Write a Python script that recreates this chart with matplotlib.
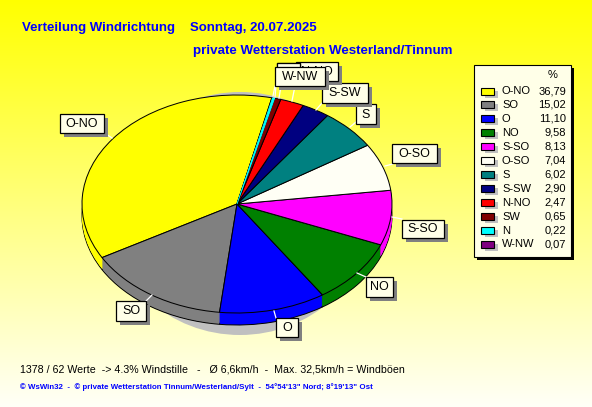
import numpy as np
import matplotlib
matplotlib.use("Agg")
import matplotlib.pyplot as plt
from matplotlib.patches import Rectangle, Ellipse

plt.rcParams["font.family"] = ["Liberation Sans", "DejaVu Sans"]

# wind direction shares in percent, order as in the legend
directions = ["O-NO", "SO", "O", "NO", "S-SO", "O-SO", "S", "S-SW", "N-NO", "SW", "N", "W-NW"]
shares = [36.79, 15.02, 11.10, 9.58, 8.13, 7.04, 6.02, 2.90, 2.47, 0.65, 0.22, 0.07]
colors = ["#ffff00", "#808080", "#0000ff", "#008000", "#ff00ff", "#fffff5",
          "#008080", "#000080", "#ff0000", "#800000", "#00ffff", "#800080"]

W, H = 592, 407
CX, CY, RX, RY = 237, 204, 155, 109
DEPTH = 12

fig = plt.figure(figsize=(W / 100, H / 100), dpi=100)

# background gradient, yellow to almost white
bg = fig.add_axes([0, 0, 1, 1])
grad = np.ones((H, 1, 3))
grad[:, 0, 2] = np.linspace(0.0, 0.97, H)
bg.imshow(grad, aspect="auto", extent=(0, W, H, 0))
bg.set_xlim(0, W)
bg.set_ylim(H, 0)
bg.axis("off")
bg.add_patch(Ellipse((240, 213.5), 260, 243, color="#c0c0c0", lw=0))

# pie axes, one data unit is RX / RY pixels
ax = fig.add_axes([0, 0, 1, 1])
ax.patch.set_alpha(0)
for d in range(DEPTH, 0, -1):
    lw = 0.72 if d == DEPTH else 0
    ax.pie(shares, colors=colors, startangle=77, center=(0, -d / RY), radius=1,
           wedgeprops={"edgecolor": "black", "linewidth": lw})
top, _ = ax.pie(shares, colors=colors, startangle=77, center=(0, 0), radius=1,
                wedgeprops={"edgecolor": "black", "linewidth": 0.72})
# the N wedge is thinner than its outline, keep it visible
top[10].set_edgecolor(colors[10])
top[10].set_linewidth(0.6)
top[10].set_zorder(5)
ax.set_aspect("auto")
ax.set_xlim(-CX / RX, (W - CX) / RX)
ax.set_ylim(-(H - CY) / RY, CY / RY)
ax.axis("off")

# overlay in pixel coordinates
ov = fig.add_axes([0, 0, 1, 1])
ov.patch.set_alpha(0)
ov.set_xlim(0, W)
ov.set_ylim(H, 0)
ov.axis("off")

CREAM = "#ffffe8"

# label boxes: text, x0, y0, x1, y1, leader line
boxes = [
    ("O-NO", 60, 114, 104, 133, (106, 134, 112, 138)),
    ("SO", 116, 301, 146, 321, (146, 301, 152, 295)),
    ("O", 276, 318, 298, 337, (276, 318, 274, 311)),
    ("NO", 366, 277, 393, 297, (366, 277, 357, 273)),
    ("S-SO", 402, 220, 444, 238, (402, 219, 392, 217)),
    ("O-SO", 392, 144, 437, 163, (393, 164, 385, 166)),
    ("S", 356, 104, 376, 124, (356, 122, 350, 127)),
    ("S-SW", 322, 83, 368, 103, (322, 103, 316, 110)),
    ("N-NO", 296, 62, 338, 81, (295, 86, 292, 101)),
    ("SW", 277, 63, 300, 82, (281, 86, 279, 98)),
    ("N", 277, 63, 300, 82, (276, 86, 275, 97)),
    ("W-NW", 275, 67, 325, 86, (275, 86, 273, 96)),
]
for i, (txt, x0, y0, x1, y1, lead) in enumerate(boxes):
    z = 5 + i
    ov.plot([lead[0], lead[2]], [lead[1], lead[3]], color="white", lw=0.9, zorder=z)
    ov.add_patch(Rectangle((x0 + 4, y0 + 4), x1 - x0, y1 - y0, color="#808080", lw=0, zorder=z))
    ov.add_patch(Rectangle((x0, y0), x1 - x0, y1 - y0, facecolor=CREAM, edgecolor="black", lw=0.9, zorder=z))
    ov.text((x0 + x1) / 2, (y0 + y1) / 2 + 0.5, txt, ha="center", va="center", fontsize=9, zorder=z)

# legend
ov.add_patch(Rectangle((477, 68), 97, 192, color="black", lw=0, zorder=20))
ov.add_patch(Rectangle((474, 65), 97, 192, facecolor=CREAM, edgecolor="black", lw=0.8, zorder=21))
ov.text(553, 75, "%", ha="center", va="center", fontsize=8, zorder=22)
for i, (name, val, col) in enumerate(zip(directions, shares, colors)):
    y = 91 + i * 13.95
    ov.add_patch(Rectangle((485, y - 0.5), 13, 7, color="#c0c0c0", lw=0, zorder=22))
    ov.add_patch(Rectangle((481, y - 3.5), 12.5, 7, facecolor=col, edgecolor="black", lw=0.8, zorder=23))
    ov.text(502, y, name, ha="left", va="center", fontsize=8, zorder=24)
    ov.text(566, y, f"{val:.2f}".replace(".", ","), ha="right", va="center", fontsize=8, zorder=24)

# titles and footer
ov.text(22, 31, "Verteilung Windrichtung", color="#0000ff",
        fontsize=9.5, fontweight="bold", va="baseline")
ov.text(190, 31, "Sonntag, 20.07.2025", color="#0000ff",
        fontsize=9.5, fontweight="bold", va="baseline")
ov.text(193, 54, "private Wetterstation Westerland/Tinnum", color="#0000ff",
        fontsize=9.6, fontweight="bold", va="baseline")
ov.text(20, 373, "1378 / 62 Werte  -> 4.3% Windstille   -   Ø 6,6km/h  -  Max. 32,5km/h = Windböen",
        fontsize=7.7, va="baseline")
ov.text(20, 389, "© WsWin32  -  © private Wetterstation Tinnum/Westerland/Sylt  -  54°54'13\" Nord; 8°19'13\" Ost",
        color="#0000ff", fontsize=5.68, fontweight="bold", va="baseline")

fig.savefig("out.png", dpi=100)
